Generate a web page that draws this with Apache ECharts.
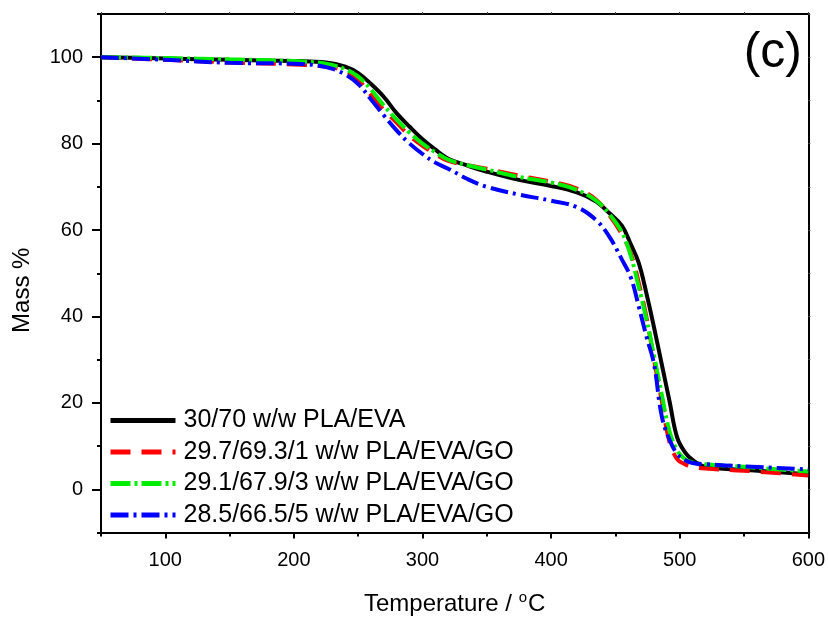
<!DOCTYPE html>
<html>
<head>
<meta charset="utf-8">
<script src="https://cdn.jsdelivr.net/npm/echarts@6/dist/echarts.min.js"></script>
<style>
    html, body { margin: 0; padding: 0; background: #fff; }
    #main { width: 828px; height: 621px; }
</style>
</head>
<body>
<div id="main"></div>
<script>
var temps = [50, 100, 150, 200, 225, 240, 250, 260, 270, 280, 290, 300, 310, 320, 335, 350, 375, 400, 420, 435, 445, 455, 462, 468, 474, 480, 486, 492, 498, 504, 510, 520, 550, 600];

var massPlaEva = [100, 99.7, 99.4, 99.1, 98.8, 97.8, 96.3, 93.8, 90.8, 87.0, 83.9, 81.0, 78.6, 76.5, 74.9, 73.5, 71.6, 70.2, 68.7, 66.6, 64.0, 61.0, 56.7, 52.5, 45.5, 37.5, 29.0, 20.5, 12.0, 8.6, 6.8, 5.2, 4.5, 3.5];
var massGo1 = [100, 99.4, 98.8, 98.3, 97.8, 96.8, 94.8, 91.2, 87.8, 84.8, 81.8, 79.5, 77.6, 76.0, 75.0, 74.2, 72.6, 71.2, 69.6, 67.0, 63.5, 59.0, 54.5, 48.0, 40.0, 30.0, 20.5, 11.0, 7.0, 5.8, 5.2, 4.8, 4.3, 3.2];
var massGo3 = [100, 99.8, 99.5, 99.1, 98.5, 97.2, 95.5, 92.5, 88.8, 85.5, 82.5, 80.0, 78.0, 76.3, 75.0, 74.0, 72.3, 71.0, 69.3, 66.8, 63.8, 59.5, 54.0, 47.0, 39.5, 31.0, 22.0, 13.5, 9.0, 7.0, 6.2, 5.8, 5.2, 4.1];
var massGo5 = [100, 99.4, 98.7, 98.5, 97.7, 96.0, 93.8, 90.2, 86.5, 83.0, 80.0, 77.6, 75.6, 74.2, 71.8, 70.0, 68.2, 66.8, 65.3, 62.3, 58.6, 53.2, 49.0, 42.5, 35.5, 29.0, 17.0, 11.5, 8.2, 6.8, 6.1, 5.8, 5.3, 4.6];

var seriesNames = ['30/70 w/w PLA/EVA', '29.7/69.3/1 w/w PLA/EVA/GO', '29.1/67.9/3 w/w PLA/EVA/GO', '28.5/66.5/5 w/w PLA/EVA/GO'];
var xLabels = [100, 200, 300, 400, 500, 600];
var yLabels = [0, 20, 40, 60, 80, 100];

function pairs(ys) {
    var out = [];
    for (var i = 0; i < temps.length; i++) {
        out.push([temps[i], ys[i]]);
    }
    return out;
}

var fontName = 'Liberation Sans, Arial, sans-serif';
var axisColor = '#000';

function makeSeries(name, ys, color, dash) {
    return {
        name: name,
        type: 'line',
        xAxisIndex: 0,
        yAxisIndex: 0,
        data: pairs(ys),
        showSymbol: false,
        symbol: 'none',
        smooth: 0.4,
        lineStyle: { color: color, width: 4, type: dash },
        itemStyle: { color: color }
    };
}

var chart = echarts.init(document.getElementById('main'));

var option = {
    backgroundColor: '#fff',
    animation: false,
    textStyle: { fontFamily: fontName },
    grid: { left: 101, right: 18, top: 14, bottom: 86 },
    legend: {
        orient: 'vertical',
        left: 108,
        top: 408,
        padding: 0,
        itemWidth: 65,
        itemHeight: 14,
        itemGap: 6.5,
        itemStyle: { opacity: 0 },
        lineStyle: { width: 5 },
        textStyle: { fontSize: 25, color: '#000', fontFamily: fontName, padding: [0, 0, 0, 3] },
        data: seriesNames
    },
    graphic: [{
        type: 'text',
        right: 26,
        top: 28,
        style: { text: '(c)', fontSize: 50, fontFamily: fontName, fill: '#000' }
    }],
    xAxis: [{
        type: 'value',
        position: 'bottom',
        min: 50,
        max: 600,
        interval: 50,
        name: 'Temperature / {sup|o}C',
        nameLocation: 'middle',
        nameGap: 58,
        nameTextStyle: {
            fontSize: 24,
            color: '#000',
            fontFamily: fontName,
            rich: { sup: { fontSize: 15, verticalAlign: 'top', padding: [0, 1, 12, 0], fontFamily: fontName } }
        },
        axisLine: { show: true, onZero: false, lineStyle: { color: axisColor, width: 2 } },
        axisTick: { show: true, length: 6, lineStyle: { color: axisColor, width: 2 }, customValues: xLabels },
        axisLabel: { fontSize: 20, color: '#000', margin: 18, customValues: xLabels },
        splitLine: { show: false }
    }, {
        type: 'value',
        position: 'bottom',
        min: 50,
        max: 600,
        interval: 50,
        axisLine: { show: false, onZero: false },
        axisTick: { show: true, length: 4, lineStyle: { color: axisColor, width: 2 } },
        axisLabel: { show: false },
        splitLine: { show: false }
    }, {
        type: 'value',
        position: 'top',
        min: 50,
        max: 600,
        interval: 50,
        axisLine: { show: true, onZero: false, lineStyle: { color: axisColor, width: 2 } },
        axisTick: { show: true, length: 2, lineStyle: { color: '#444', width: 1 } },
        axisLabel: { show: false },
        splitLine: { show: false }
    }],
    yAxis: [{
        type: 'value',
        position: 'left',
        min: -10,
        max: 110,
        interval: 10,
        name: 'Mass %',
        nameLocation: 'middle',
        nameGap: 67,
        nameTextStyle: { fontSize: 24, color: '#000', fontFamily: fontName, padding: [0, 34, 0, 0] },
        axisLine: { show: true, onZero: false, lineStyle: { color: axisColor, width: 2 } },
        axisTick: { show: true, length: 9, lineStyle: { color: axisColor, width: 2 }, customValues: yLabels },
        axisLabel: { fontSize: 20, color: '#000', margin: 18, customValues: yLabels },
        splitLine: { show: false }
    }, {
        type: 'value',
        position: 'left',
        min: -10,
        max: 110,
        interval: 10,
        axisLine: { show: false, onZero: false },
        axisTick: { show: true, length: 4, lineStyle: { color: axisColor, width: 2 } },
        axisLabel: { show: false },
        splitLine: { show: false }
    }, {
        type: 'value',
        position: 'right',
        min: -10,
        max: 110,
        interval: 10,
        axisLine: { show: true, onZero: false, lineStyle: { color: axisColor, width: 2 } },
        axisTick: { show: true, length: 2, lineStyle: { color: '#444', width: 1 } },
        axisLabel: { show: false },
        splitLine: { show: false }
    }],
    series: [
        makeSeries(seriesNames[0], massPlaEva, '#000000', 'solid'),
        makeSeries(seriesNames[1], massGo1, '#ff0000', [20, 11]),
        makeSeries(seriesNames[2], massGo3, '#00ee00', [20, 4, 3, 4]),
        makeSeries(seriesNames[3], massGo5, '#0000ff', [18, 5, 3, 5])
    ]
};

chart.setOption(option);
</script>
</body>
</html>
